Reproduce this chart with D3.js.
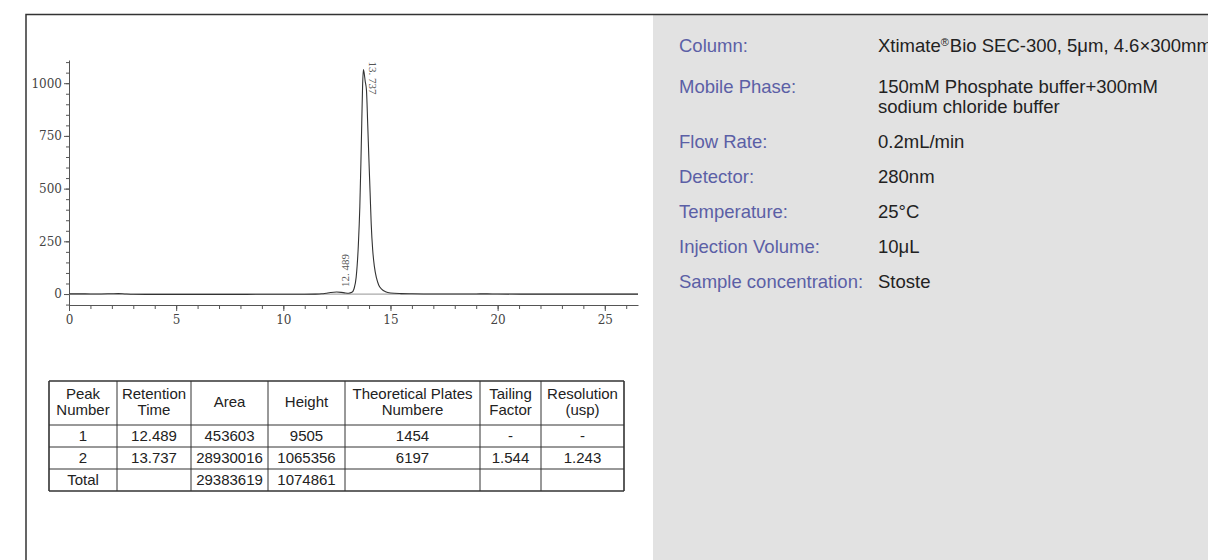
<!DOCTYPE html>
<html>
<head>
<meta charset="utf-8">
<script src="https://cdn.jsdelivr.net/npm/d3@7"></script>
<style>
  html, body { margin: 0; padding: 0; background: #fff; }
  svg { display: block; }
</style>
</head>
<body>
<div id="d3-container"></div>
<script>
/* DATA */
// chromatogram trace (time in min, signal in mAU)
const times = [0, 0.5, 1.0, 1.5, 2.0, 2.3, 2.6, 3.0, 4, 5, 6, 7, 8, 9, 10, 11, 11.5, 11.8, 12.0, 12.2, 12.489, 12.7, 12.9, 13.05, 13.2, 13.3, 13.4, 13.5, 13.57, 13.62, 13.66, 13.7, 13.737, 13.77, 13.82, 13.88, 13.94, 13.99, 14.05, 14.10, 14.17, 14.25, 14.35, 14.45, 14.6, 14.77, 15.0, 15.5, 16, 17, 18, 19, 19.5, 20, 22, 24, 26.55];
const signal = [1, 1, 0.5, 0.5, 1.5, 2, 0.5, -1, -1.5, -1.5, -1.5, -1.5, -1.5, -1, -1, -1, -0.5, 1, 4, 7, 9.5, 8, 5, 4, 8, 25, 80, 230, 414, 620, 810, 990, 1065, 1050, 1010, 967, 800, 651, 480, 336, 210, 130, 75, 43, 22, 11, 5, 2, 1, 0, 0, 0.5, 1, 0, -0.5, -0.5, -0.5];

const peakTimes = [12.489, 13.737];
const peakHeights = [9.505, 1065.356];

const yTickValues = [0, 250, 500, 750, 1000];
const xTickValues = [0, 5, 10, 15, 20, 25];

const tableHeaders = [["Peak", "Number"], ["Retention", "Time"], ["Area"], ["Height"], ["Theoretical Plates", "Numbere"], ["Tailing", "Factor"], ["Resolution", "(usp)"]];
const tableRows = [
  ["1", "12.489", "453603", "9505", "1454", "-", "-"],
  ["2", "13.737", "28930016", "1065356", "6197", "1.544", "1.243"],
  ["Total", "", "29383619", "1074861", "", "", ""]
];

const conditionLabels = ["Column:", "Mobile Phase:", "Flow Rate:", "Detector:", "Temperature:", "Injection Volume:", "Sample concentration:"];
const conditionValues = [["Xtimate® Bio SEC-300, 5μm, 4.6×300mm"], ["150mM Phosphate buffer+300mM", "sodium chloride buffer"], ["0.2mL/min"], ["280nm"], ["25°C"], ["10μL"], ["Stoste"]];

/* LAYOUT */
const width = 1208, height = 560;
const serif = "'DejaVu Serif', 'Liberation Serif', serif";
const sans = "'Liberation Sans', Arial, sans-serif";

const svg = d3.select("#d3-container")
  .append("svg")
  .attr("width", width)
  .attr("height", height);

// grey conditions panel + frame
svg.append("rect")
  .attr("x", 653).attr("y", 15)
  .attr("width", width - 653).attr("height", height - 15)
  .attr("fill", "#e2e2e2");

svg.append("path")
  .attr("d", `M26,${height}V14.5H${width}`)
  .attr("fill", "none")
  .attr("stroke", "#333")
  .attr("stroke-width", 1.5);

/* CHROMATOGRAM */
const xScale = d3.scaleLinear().domain([0, 26.55]).range([69, 638]);
const yScale = d3.scaleLinear().domain([-52, 1110]).range([305, 60]);

// minor ticks first, so the major ones sit on top
svg.append("g")
  .attr("transform", `translate(${xScale(0)},0)`)
  .call(d3.axisLeft(yScale).tickValues(d3.range(-50, 1101, 50)).tickSize(3).tickSizeOuter(0).tickFormat(""))
  .call(g => g.select(".domain").remove());

svg.append("g")
  .attr("transform", `translate(0,${yScale(-52)})`)
  .call(d3.axisBottom(xScale).tickValues(d3.range(0, 27, 1)).tickSize(4).tickSizeOuter(0).tickFormat(""))
  .call(g => g.select(".domain").remove());

const yAxisGroup = svg.append("g")
  .attr("class", "yAxis")
  .attr("transform", `translate(${xScale(0)},0)`)
  .call(d3.axisLeft(yScale).tickValues(yTickValues).tickSize(5).tickSizeOuter(0).tickPadding(2).tickFormat(d3.format("d")));

const xAxisGroup = svg.append("g")
  .attr("class", "xAxis")
  .attr("transform", `translate(0,${yScale(-52)})`)
  .call(d3.axisBottom(xScale).tickValues(xTickValues).tickSize(6).tickSizeOuter(0).tickPadding(4));

svg.selectAll(".tick line, .domain").attr("stroke", "#555");
svg.selectAll(".yAxis text, .xAxis text")
  .attr("font-family", serif)
  .attr("font-size", 12)
  .attr("fill", "#444");

// baseline
svg.append("line")
  .attr("x1", xScale(0)).attr("x2", xScale(26.55))
  .attr("y1", yScale(0)).attr("y2", yScale(0))
  .attr("stroke", "#aaa")
  .attr("stroke-width", 1.2);

const lineGen = d3.line()
  .x((d, i) => xScale(times[i]))
  .y(d => yScale(d))
  .curve(d3.curveMonotoneX);

svg.append("path")
  .datum(signal)
  .attr("fill", "none")
  .attr("stroke", "#333")
  .attr("stroke-width", 1.1)
  .attr("d", lineGen);

// retention time labels
const fmt = d => d3.format(".3f")(d).replace(".", ". ");

svg.append("text")
  .attr("transform", `translate(${xScale(peakTimes[0]) + 8},${yScale(peakHeights[0]) - 5}) rotate(-90)`)
  .attr("dy", "0.35em")
  .attr("font-family", "'Liberation Serif', serif")
  .attr("font-size", 11)
  .attr("fill", "#555")
  .text(fmt(peakTimes[0]));

svg.append("text")
  .attr("transform", `translate(${xScale(peakTimes[1]) + 9},${yScale(peakHeights[1]) - 8}) rotate(90)`)
  .attr("dy", "0.35em")
  .attr("font-family", "'Liberation Serif', serif")
  .attr("font-size", 11)
  .attr("fill", "#555")
  .text(fmt(peakTimes[1]));

/* RESULTS TABLE */
const colEdges = [49, 117, 191, 268, 345, 480, 541, 624];
const rowEdges = [381, 425, 447, 469, 491];
const table = svg.append("g").attr("font-family", sans).attr("font-size", 15).attr("fill", "#222");

colEdges.forEach((cx, i) => {
  table.append("line")
    .attr("x1", cx).attr("x2", cx)
    .attr("y1", rowEdges[0]).attr("y2", rowEdges[rowEdges.length - 1])
    .attr("stroke", "#333")
    .attr("stroke-width", (i === 0 || i === colEdges.length - 1) ? 1.6 : 1);
});
rowEdges.forEach((ry, i) => {
  table.append("line")
    .attr("x1", colEdges[0]).attr("x2", colEdges[colEdges.length - 1])
    .attr("y1", ry).attr("y2", ry)
    .attr("stroke", "#333")
    .attr("stroke-width", (i === 0 || i === rowEdges.length - 1) ? 1.6 : 1);
});

tableHeaders.forEach((lines, c) => {
  const cx = (colEdges[c] + colEdges[c + 1]) / 2;
  const cy = (rowEdges[0] + rowEdges[1]) / 2 - 1;
  lines.forEach((t, k) => {
    table.append("text")
      .attr("x", cx)
      .attr("y", cy + (k - (lines.length - 1) / 2) * 16)
      .attr("dy", "0.35em")
      .attr("text-anchor", "middle")
      .text(t);
  });
});

tableRows.forEach((row, r) => {
  const cy = (rowEdges[r + 1] + rowEdges[r + 2]) / 2;
  row.forEach((t, c) => {
    table.append("text")
      .attr("x", (colEdges[c] + colEdges[c + 1]) / 2)
      .attr("y", cy)
      .attr("dy", "0.35em")
      .attr("text-anchor", "middle")
      .text(t);
  });
});

/* CONDITIONS */
const condY = [46, 87, 142, 177, 212, 247, 282];
const cond = svg.append("g").attr("font-family", sans).attr("font-size", 18.5);

conditionLabels.forEach((label, i) => {
  cond.append("text")
    .attr("x", 679).attr("y", condY[i])
    .attr("dy", "0.35em")
    .attr("fill", "#5b5fa6")
    .text(label);

  conditionValues[i].forEach((v, k) => {
    const t = cond.append("text")
      .attr("x", 878).attr("y", condY[i] + k * 20)
      .attr("dy", "0.35em")
      .attr("fill", "#222");
    if (v.includes("®")) {
      const parts = v.split("®");
      t.append("tspan").text(parts[0]);
      t.append("tspan").attr("font-size", 11).attr("dy", -6).text("®");
      t.append("tspan").attr("dy", 6).attr("dx", 1).text(parts[1].trimStart());
    } else {
      t.text(v);
    }
  });
});
</script>
</body>
</html>
